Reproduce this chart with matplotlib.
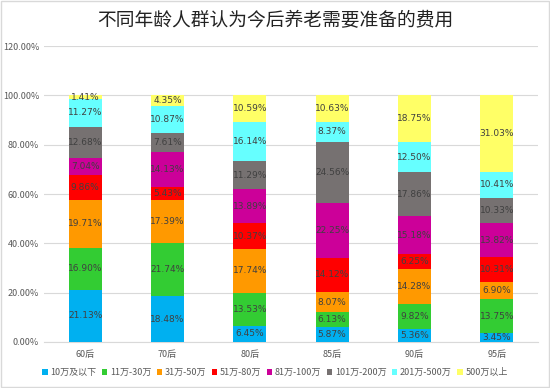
import matplotlib
matplotlib.use("Agg")
import matplotlib.pyplot as plt
from matplotlib.ticker import FuncFormatter
from matplotlib.patches import Rectangle
import numpy as np

plt.rcParams['font.family'] = ['Noto Sans CJK SC', 'DejaVu Sans']

categories = ['60后', '70后', '80后', '85后', '90后', '95后']
series_names = ['10万及以下', '11万-30万', '31万-50万', '51万-80万', '81万-100万',
                '101万-200万', '201万-500万', '500万以上']
s1 = [21.13, 18.48, 6.45, 5.87, 5.36, 3.45]
s2 = [16.90, 21.74, 13.53, 6.13, 9.82, 13.75]
s3 = [19.71, 17.39, 17.74, 8.07, 14.28, 6.90]
s4 = [9.86, 5.43, 10.37, 14.12, 6.25, 10.31]
s5 = [7.04, 14.13, 13.89, 22.25, 15.18, 13.82]
s6 = [12.68, 7.61, 11.29, 24.56, 17.86, 10.33]
s7 = [11.27, 10.87, 16.14, 8.37, 12.50, 10.41]
s8 = [1.41, 4.35, 10.59, 10.63, 18.75, 31.03]
series = [s1, s2, s3, s4, s5, s6, s7, s8]
colors = ['#00B0F0', '#33CC33', '#FF9900', '#FF0000', '#CC0099', '#767171', '#66FFFF', '#FFFF66']

fig = plt.figure(figsize=(5.5, 3.88), dpi=100)
ax = fig.add_axes([0.08, 0.119, 0.898, 0.762])

x = np.arange(len(categories))
bottom = np.zeros(len(categories))
handles = []
for name, vals, c in zip(series_names, series, colors):
    vals = np.array(vals)
    b = ax.bar(x, vals, 0.4, bottom=bottom, color=c, label=name, zorder=3)
    handles.append(b)
    for xi, v, bt in zip(x, vals, bottom):
        ax.text(xi, bt + v / 2, f'{v:.2f}%', ha='center', va='center',
                fontsize=6.5, color='#404040', zorder=4, family=['DejaVu Sans'])
    bottom += vals

ax.set_ylim(0, 120)
ax.set_xlim(-0.5, len(categories) - 0.5)
ax.set_yticks(np.arange(0, 121, 20))
ax.yaxis.set_major_formatter(FuncFormatter(lambda v, p: f'{v:.2f}%'))
ax.set_xticks(x)
ax.set_xticklabels(categories)
ax.tick_params(axis='both', length=0, labelsize=6.5, colors='#595959')
ax.tick_params(axis='x', pad=6)
ax.grid(axis='y', color='#D9D9D9', linewidth=0.8, zorder=0)
for s in ['top', 'right', 'left']:
    ax.spines[s].set_visible(False)
ax.spines['bottom'].set_color('#D9D9D9')

fig.suptitle('不同年龄人群认为今后养老需要准备的费用', y=0.975, fontsize=13.5, color='#222222')

leg = fig.legend(handles=handles, labels=series_names, loc='center', bbox_to_anchor=(0.5, 0.04),
                 ncol=8, frameon=False, fontsize=6.5, handlelength=0.6, handleheight=0.6,
                 handletextpad=0.3, columnspacing=0.6)
for t in leg.get_texts():
    t.set_color('#595959')

fig.patches.append(Rectangle((0.002, 0.002), 0.996, 0.996, transform=fig.transFigure,
                             fill=False, edgecolor='#D9D9D9', linewidth=1))

fig.savefig('out.png', dpi=100)
